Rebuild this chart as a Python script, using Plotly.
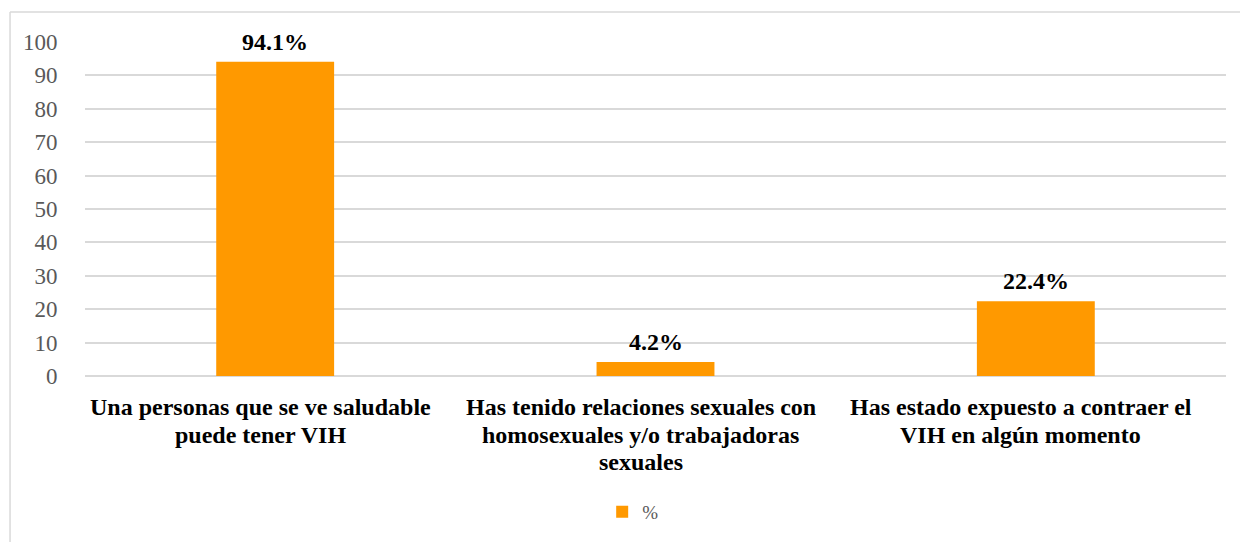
import plotly.graph_objects as go

categories = [
    "Una personas que se ve saludable<br>puede tener VIH",
    "Has tenido relaciones sexuales con<br>homosexuales y/o trabajadoras<br>sexuales",
    "Has estado expuesto a contraer el<br>VIH en algún momento",
]
values = [94.1, 4.2, 22.4]
labels = ["94.1%", "4.2%", "22.4%"]
series_name = "%"
y_ticks = [0, 10, 20, 30, 40, 50, 60, 70, 80, 90, 100]

FONT = "Liberation Serif"
ORANGE = "#FF9900"

fig = go.Figure()
fig.add_trace(go.Bar(
    x=categories, y=values, name=series_name,
    marker=dict(color=ORANGE, line=dict(width=0)),
    width=0.31, showlegend=True,
))

# data labels
for c, v, t in zip(categories, values, labels):
    fig.add_annotation(x=c, y=v, text="<b>%s</b>" % t, showarrow=False,
                       yanchor="middle", yshift=20,
                       font=dict(family=FONT, size=24, color="black"))

# category labels (tighter line spacing, one annotation per line)
for c in categories:
    for i, line in enumerate(c.split("<br>")):
        fig.add_annotation(x=c, y=0, text="<b>%s</b>" % line, showarrow=False,
                           yanchor="middle", yshift=-31 - 27.5 * i, xshift=-15,
                           font=dict(family=FONT, size=24, color="black"))

fig.update_layout(
    width=1240, height=542,
    margin=dict(l=85, r=14, t=42, b=165),
    paper_bgcolor="white", plot_bgcolor="white",
    font=dict(family=FONT),
    showlegend=True,
    legend=dict(orientation="h", x=0.48, xanchor="center", y=-0.403, yanchor="middle",
                font=dict(family=FONT, size=19, color="#595959"),
                itemwidth=30),
    xaxis=dict(showgrid=False, showline=False, zeroline=False, automargin=False,
               tickmode="array", tickvals=categories, ticktext=["" for _ in categories]),
    yaxis=dict(range=[0, 100], tickvals=y_ticks, showgrid=True, automargin=False,
               gridcolor="#D9D9D9", gridwidth=1.5, zeroline=True,
               zerolinecolor="#D9D9D9", zerolinewidth=1.5,
               tickfont=dict(family=FONT, size=23, color="#595959"),
               ticks="outside", ticklen=22, tickcolor="rgba(0,0,0,0)"),
)

# chart-area border (top and left visible)
fig.add_shape(type="line", xref="paper", yref="paper",
              x0=-0.0657, x1=1.05, y0=1.0896, y1=1.0896,
              line=dict(color="#D9D9D9", width=1.5))
fig.add_shape(type="line", xref="paper", yref="paper",
              x0=-0.0657, x1=-0.0657, y0=1.0896, y1=-0.6,
              line=dict(color="#D9D9D9", width=1.5))

fig.write_html("out.html", config={"displayModeBar": False},
               post_script="document.body.style.margin='0';")
